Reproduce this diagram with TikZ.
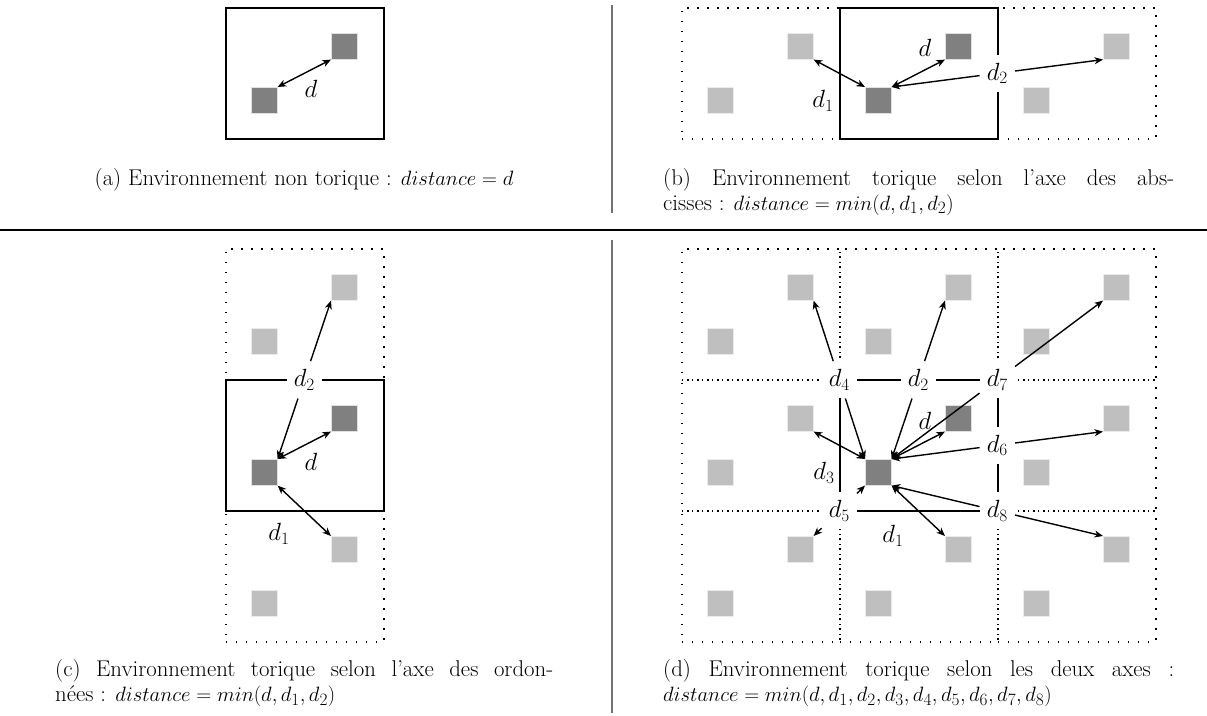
\documentclass[tikz,border=0pt]{standalone}
\usetikzlibrary{arrows.meta,calc}
\begin{document}
\begin{tikzpicture}[x=1pt,y=-1pt,
  dk/.style={fill=black!50, draw=black!12, line width=0.6pt, minimum size=26pt, inner sep=0pt, anchor=north west},
  lt/.style={fill=black!25, draw=black!8, line width=0.6pt, minimum size=26pt, inner sep=0pt, anchor=north west},
  dotbox/.style={draw, line width=1.6pt, dash pattern=on 1.6pt off 8.4pt, minimum width=158pt, minimum height=131pt, inner sep=0pt, anchor=north west},
  solbox/.style={draw, line width=2pt, minimum width=158pt, minimum height=131pt, inner sep=0pt, anchor=north west},
  lab/.style={font=\fontsize{25}{29}\selectfont, inner xsep=7pt, inner ysep=8pt},
  labw/.style={lab, fill=white},
  arr/.style={line width=1.4pt, {Stealth[length=8.5pt,width=7pt,inset=2.5pt]}-{Stealth[length=8.5pt,width=7pt,inset=2.5pt]}},
  arh/.style={line width=1.4pt, -{Stealth[length=8.5pt,width=7pt,inset=2.5pt]}},
  sepline/.style={draw=black!55, line width=1.3pt},
  captxt/.style={font=\fontsize{22.8}{26}\selectfont, inner sep=0pt},
]
\useasboundingbox (0,0) rectangle (1207,715);
% separators
\draw[sepline] (612,5) -- (612,213);
\draw[line width=1.2pt] (0,230) -- (1207,230);
\draw[sepline] (612,240) -- (612,713);

% ---------- (a)
\node[solbox] (aBox) at (225,7) {};
\node[dk] (aA) at (251,87) {};
\node[dk] (aB) at (331,33) {};
\draw[arr] (aA.north east) -- (aB.south west);
\node[lab] (ad) at (311,89) {$d$};

% ---------- (b)
\node[dotbox] (bL) at (681,7) {};
\node[dotbox] (bR) at (997,7) {};
\node[solbox] (bC) at (839,7) {};
\node[lt] (bLA) at (707,87) {};
\node[lt] (bLB) at (787,33) {};
\node[dk] (bCA) at (865,87) {};
\node[dk] (bCB) at (945,33) {};
\node[lt] (bRA) at (1023,87) {};
\node[lt] (bRB) at (1103,33) {};
\draw[arr] (bCA.north east) -- (bCB.south west);
\node[lab] (bd) at (925,48) {$d$};
\draw[arr] (bCA.north west) -- (bLB.south east);
\node[lab] (bd1) at (823,101) {$d_1$};
\node[labw] (bd2) at ($(bCA.north east)!0.5!(bRB.south west)$) {$d_2$};
\draw[arh] (bd2) -- (bCA.north east);
\draw[arh] (bd2) -- (bRB.south west);

% ---------- (c)
\node[dotbox] (cT) at (225,248) {};
\node[dotbox] (cB) at (225,510) {};
\node[solbox] (cC) at (225,379) {};
\node[lt] (cTA) at (251,328) {};
\node[lt] (cTB) at (331,274) {};
\node[dk] (cCA) at (251,459) {};
\node[dk] (cCB) at (331,405) {};
\node[lt] (cBA) at (251,590) {};
\node[lt] (cBB) at (331,536) {};
\draw[arr] (cCA.north east) -- (cCB.south west);
\node[lab] (cd) at (311,462) {$d$};
\draw[arr] (cCA.south east) -- (cBB.north west);
\node[lab] (cd1) at (279,534) {$d_1$};
\node[labw] (cd2) at ($(cCA.north east)!0.5!(cTB.south west)$) {$d_2$};
\draw[arh] (cd2) -- (cCA.north east);
\draw[arh] (cd2) -- (cTB.south west);

% ---------- (d)
\node[dotbox] (dTL) at (681,248) {};
\node[dotbox] (dTM) at (839,248) {};
\node[dotbox] (dTR) at (997,248) {};
\node[dotbox] (dML) at (681,379) {};
\node[dotbox] (dMR) at (997,379) {};
\node[dotbox] (dBL) at (681,510) {};
\node[dotbox] (dBM) at (839,510) {};
\node[dotbox] (dBR) at (997,510) {};
\node[solbox] (dMM) at (839,379) {};
\foreach \n/\x/\y in {TL/681/248,TM/839/248,TR/997/248,ML/681/379,MR/997/379,BL/681/510,BM/839/510,BR/997/510}{
  \node[lt] (d\n A) at (\x+26,\y+80) {};
  \node[lt] (d\n B) at (\x+106,\y+26) {};
}
\node[dk] (dMMA) at (865,459) {};
\node[dk] (dMMB) at (945,405) {};
\draw[arr] (dMMA.north east) -- (dMMB.south west);
\node[lab] (dd) at (925,421) {$d$};
\draw[arr] (dMMA.south east) -- (dBMB.north west);
\node[lab] (dd1) at (893,536) {$d_1$};
\draw[arr] (dMMA.north west) -- (dMLB.south east);
\node[lab] (dd3) at (824,473) {$d_3$};
\node[labw] (dd2) at ($(dMMA.north east)!0.5!(dTMB.south west)$) {$d_2$};
\node[labw] (dd4) at ($(dMMA.north west)!0.5!(dTLB.south east)$) {$d_4$};
\node[labw] (dd5) at ($(dMMA.south west)!0.5!(dBLB.north east)$) {$d_5$};
\node[labw] (dd6) at ($(dMMA.north east)!0.5!(dMRB.south west)$) {$d_6$};
\node[labw] (dd7) at ($(dMMA.north east)!0.5!(dTRB.south west)$) {$d_7$};
\node[labw] (dd8) at ($(dMMA.south east)!0.5!(dBRB.north west)$) {$d_8$};
\draw[arh] (dd2) -- (dMMA.north east);
\draw[arh] (dd2) -- (dTMB.south west);
\draw[arh] (dd4) -- (dMMA.north west);
\draw[arh] (dd4) -- (dTLB.south east);
\draw[arh] (dd5) -- (dMMA.south west);
\draw[arh] (dd5) -- (dBLB.north east);
\draw[arh] (dd6) -- (dMMA.north east);
\draw[arh] (dd6) -- (dMRB.south west);
\draw[arh] (dd7) -- (dMMA.north east);
\draw[arh] (dd7) -- (dTRB.south west);
\draw[arh] (dd8) -- (dMMA.south east);
\draw[arh] (dd8) -- (dBRB.north west);

% ---------- captions
\node[captxt, anchor=base] (capa) at (304,185) {(a) Environnement non torique : $distance = d$};
\node[captxt, anchor=base west] (capb1) at (663,185) {\makebox[511pt][s]{(b) Environnement torique selon l'axe des abs-}};
\node[captxt, anchor=base west] (capb2) at (663,210) {cisses : $distance = min(d, d_1, d_2)$};
\node[captxt, anchor=base west] (capc1) at (55,676) {\makebox[498pt][s]{(c) Environnement torique selon l'axe des ordon-}};
\node[captxt, anchor=base west] (capc2) at (55,701) {nées : $distance = min(d, d_1, d_2)$};
\node[captxt, anchor=base west] (capd1) at (663,676) {\makebox[511pt][s]{(d) Environnement torique selon les deux axes :}};
\node[captxt, anchor=base west] (capd2) at (663,701) {$distance = min(d, d_1, d_2, d_3, d_4, d_5, d_6, d_7, d_8)$};
\end{tikzpicture}
\end{document}
